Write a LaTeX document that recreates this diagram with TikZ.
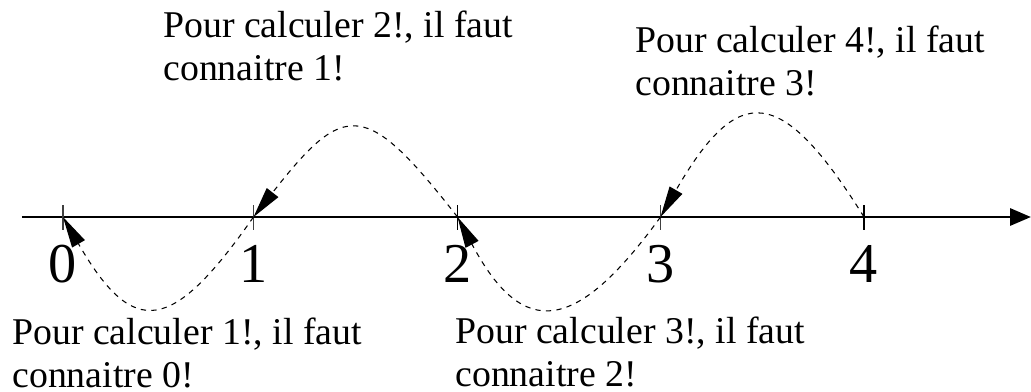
\documentclass[tikz,border=0pt]{standalone}
\usepackage{fontspec}
\setmainfont{Liberation Serif}
\usetikzlibrary{arrows.meta, positioning, calc}

\tikzset{
    note/.style={anchor=north west, align=left, inner sep=0pt},
    digit/.style={inner sep=0pt, font=\fontsize{32}{38}\selectfont},
    depend/.style={dash pattern=on 3pt off 3pt, line width=0.6pt, -{Triangle[length=0.62cm,width=0.29cm]}}
}

\begin{document}
\begin{tikzpicture}[every node/.style={font=\fontsize{21.5}{24.4}\selectfont}]
    \useasboundingbox (-1.26,-3.48) rectangle (19.36,4.34);
    % axe
    \coordinate (start) at (-0.82,0);
    \coordinate (end) at (19.36,0);
    \coordinate (t0) at (0,0);
    \coordinate (t1) at (3.81,0);
    \coordinate (t2) at (7.89,0);
    \coordinate (t3) at (11.95,0);
    \coordinate (t4) at (16.02,0);
    \draw[line width=1.7pt,-{Triangle[length=0.42cm,width=0.34cm]}] (start) -- (end);
    \draw[line width=0.6pt,black!75] (t0) ++(0,0.24) -- ++(0,-0.5);
    \draw[line width=0.6pt,black!75] (t1) ++(0,0.24) -- ++(0,-0.5);
    \draw[line width=0.6pt] (t2) ++(0,0.24) -- ++(0,-0.5);
    \draw[line width=0.6pt,black!75] (t3) ++(0,0.24) -- ++(0,-0.5);
    \draw[line width=0.6pt] (t4) ++(0,0.24) -- ++(0,-0.5);
    \node[digit, below=0.56cm of t0] (n0) {0};
    \node[digit, below=0.56cm of t1] (n1) {1};
    \node[digit, below=0.56cm of t2] (n2) {2};
    \node[digit, below=0.56cm of t3] (n3) {3};
    \node[digit, below=0.56cm of t4] (n4) {4};
    % dependances
    \draw[depend] (t1) to[out=-125,in=-60,looseness=1.91] (t0);
    \draw[depend] (t2) to[out=128,in=52,looseness=1.87] (t1);
    \draw[depend] (t3) to[out=-126,in=-62,looseness=1.79] (t2);
    \draw[depend] (t4) to[out=122,in=60,looseness=1.97] (t3);
    % textes
    \node[note] (c1) at (-1.02,-2.02) {Pour calculer 1!, il faut\\connaitre 0!};
    \node[note] (c2) at (2.0,4.12) {Pour calculer 2!, il faut\\connaitre 1!};
    \node[note] (c3) at (7.84,-2.0) {Pour calculer 3!, il faut\\connaitre 2!};
    \node[note] (c4) at (11.44,3.82) {Pour calculer 4!, il faut\\connaitre 3!};
\end{tikzpicture}
\end{document}
